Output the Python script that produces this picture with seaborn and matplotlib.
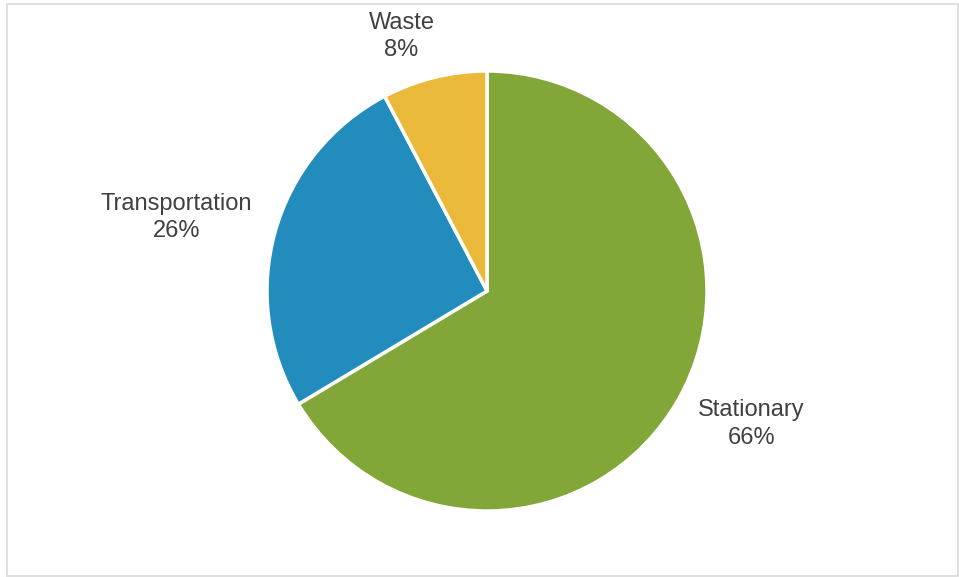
import matplotlib
matplotlib.use("Agg")
from matplotlib import pyplot as plt
from matplotlib.patches import Rectangle
import numpy as np
import seaborn as sns

# Data
categories = ["Stationary", "Transportation", "Waste"]
shares = [66.4, 25.9, 7.7]
colors = ["#82A637", "#228DBD", "#EBB93A"]
label_dist = [1.345, 1.45, 1.22]
label_shift = [2.8, 2.4, 4.7]  # degrees, nudge like the original layout

sns.set_theme(style="white")
plt.rcParams["font.family"] = ["Liberation Sans", "DejaVu Sans"]

fig = plt.figure(figsize=(9.59, 5.77), dpi=100)
cx, cy, r = 487, 291, 220
W, H = 959, 577
ax = fig.add_axes([(cx - r) / W, (H - cy - r) / H, 2 * r / W, 2 * r / H])

wedges, _ = ax.pie(shares, colors=colors, startangle=90, counterclock=False,
                   radius=1, wedgeprops=dict(edgecolor="white", linewidth=2.5))
ax.set_xlim(-1, 1)
ax.set_ylim(-1, 1)
ax.set_aspect("equal")
ax.axis("off")

for w, name, val, d, s in zip(wedges, categories, shares, label_dist, label_shift):
    ang = np.deg2rad((w.theta1 + w.theta2) / 2 + s)
    ax.text(d * np.cos(ang), d * np.sin(ang), f"{name}\n{val:.0f}%",
            ha="center", va="center", fontsize=17, color="#404040",
            linespacing=1.3, clip_on=False)

# chart frame
fig.patches.append(Rectangle((7 / W, 1 / H), 951 / W, 572 / H, transform=fig.transFigure,
                             fill=False, edgecolor="#D9D9D9", linewidth=1.2))

fig.savefig("out.png", dpi=100)
